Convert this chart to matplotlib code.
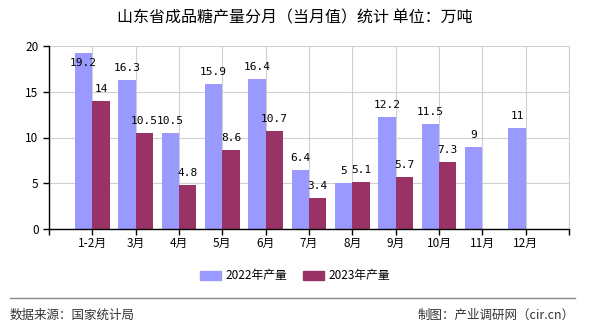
import numpy as np
import matplotlib.pyplot as plt
from matplotlib.lines import Line2D
from matplotlib.patches import Patch

plt.rcParams['font.family'] = ['Noto Sans CJK SC', 'DejaVu Sans']

# Data
months = ['1-2月', '3月', '4月', '5月', '6月', '7月', '8月', '9月', '10月', '11月', '12月']
prod_2022 = [19.2, 16.3, 10.5, 15.9, 16.4, 6.4, 5, 12.2, 11.5, 9, 11]
prod_2023 = [14, 10.5, 4.8, 8.6, 10.7, 3.4, 5.1, 5.7, 7.3]
yticks = [0, 5, 10, 15, 20]

c22 = '#9999ff'
c23 = '#993366'

fig = plt.figure(figsize=(5.9, 3.3), dpi=100)
ax = fig.add_axes([49 / 590, 1 - 229 / 330, (569 - 49) / 590, (229 - 46) / 330])

x = np.arange(1, len(months) + 1)
w = 0.4
b1 = ax.bar(x[:len(prod_2022)] - w / 2, prod_2022, w, color=c22, zorder=2)
b2 = ax.bar(x[:len(prod_2023)] + w / 2, prod_2023, w, color=c23, zorder=2)

def fmt(v):
    return ('%g' % v)

lbl = dict(fontsize=8, family='DejaVu Sans Mono', zorder=3, ha='center')
for rect, v in zip(b1, prod_2022):
    cx = rect.get_x() + rect.get_width() / 2
    if v > 18:
        # no room above the top of the axis, so the label sits inside the bar
        ax.annotate(fmt(v), (cx, v), xytext=(0, -7), textcoords='offset points', va='center', **lbl)
    else:
        ax.annotate(fmt(v), (cx, v), xytext=(0, 5), textcoords='offset points', va='bottom', **lbl)
for rect, v in zip(b2, prod_2023):
    cx = rect.get_x() + rect.get_width() / 2
    ax.annotate(fmt(v), (cx, v), xytext=(0, 5), textcoords='offset points', va='bottom', **lbl)

ax.set_xlim(0, 12)
ax.set_ylim(0, 20)
ax.set_xticks(np.arange(0, 13))
ax.set_xticklabels([''] + months + [''])
ax.set_yticks(yticks)
ax.grid(True, color='#d0d0d0', linewidth=0.8, zorder=0)
ax.spines['top'].set_visible(False)
ax.spines['right'].set_color('#d0d0d0')
ax.spines['right'].set_linewidth(0.8)
for s in ['left', 'bottom']:
    ax.spines[s].set_color('black')
    ax.spines[s].set_linewidth(1)
ax.tick_params(axis='both', direction='out', length=4, width=1, labelsize=8.5, colors='black')
ax.tick_params(axis='x', pad=2)

fig.text(0.5, 1 - 18 / 330, '山东省成品糖产量分月（当月值）统计 单位：万吨',
         ha='center', va='center', fontsize=11.5)

handles = [Patch(color=c22), Patch(color=c23)]
fig.legend(handles, ['2022年产量', '2023年产量'], loc='center', bbox_to_anchor=(0.5, 1 - 276 / 330),
           ncol=2, frameon=False, fontsize=8.5, handlelength=1.8, handleheight=0.8,
           columnspacing=1.3, handletextpad=0.4)

fig.add_artist(Line2D([10 / 590, 575 / 590], [1 - 298 / 330] * 2, color='#888888', linewidth=1))
fig.text(10 / 590, 1 - 315 / 330, '数据来源：国家统计局', ha='left', va='center', fontsize=9, color='#333333')
fig.text(575 / 590, 1 - 315 / 330, '制图：产业调研网（cir.cn）', ha='right', va='center', fontsize=9, color='#333333')

fig.savefig('out.png', dpi=100)
